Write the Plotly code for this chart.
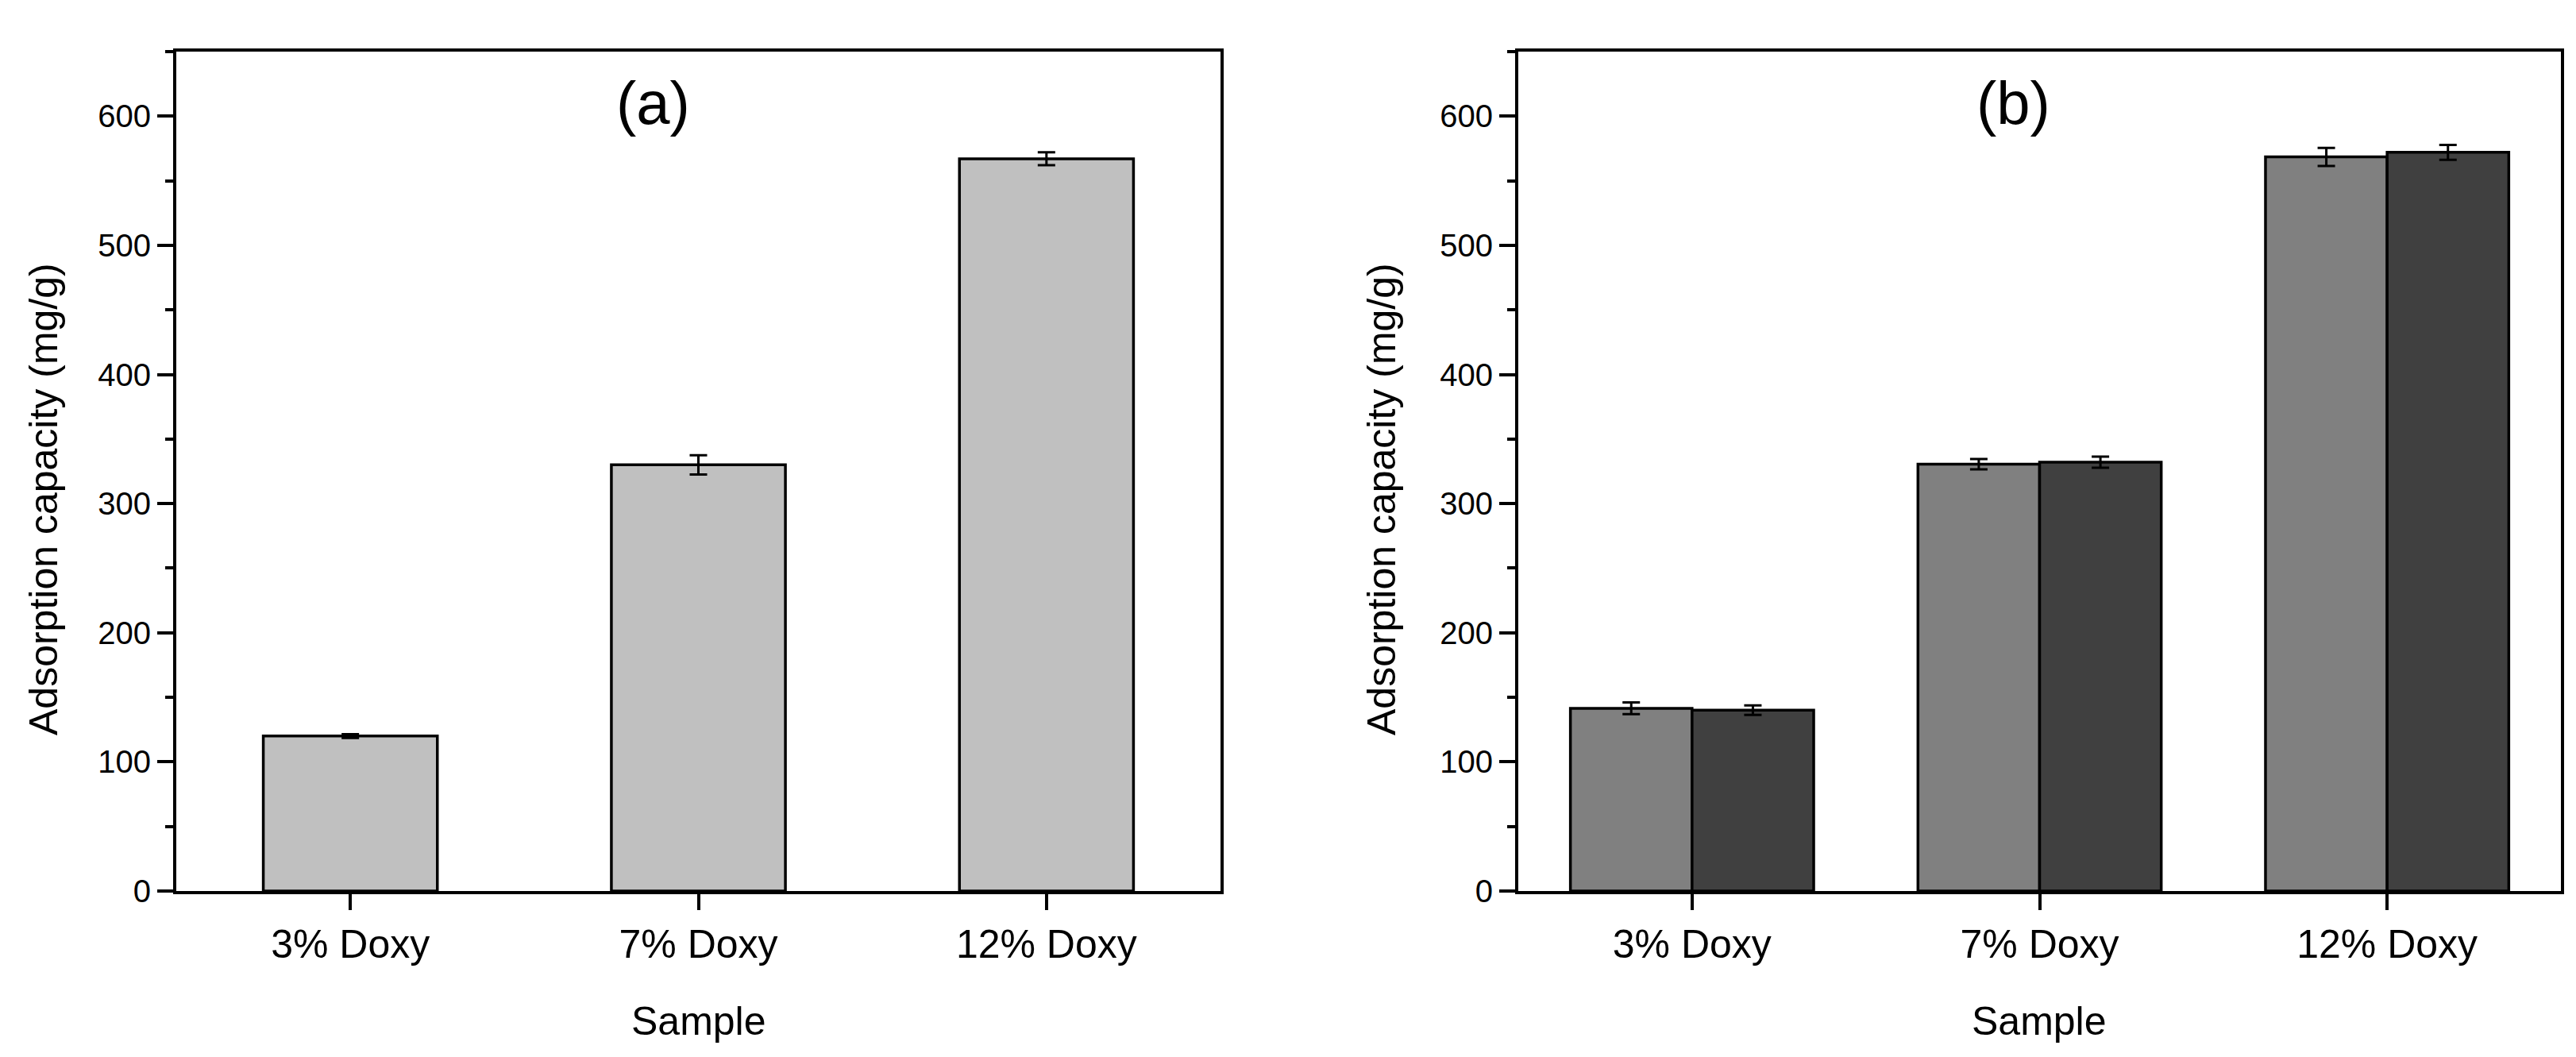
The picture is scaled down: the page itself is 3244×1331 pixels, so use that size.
import plotly.graph_objects as go

# ---- data ----
categories = ["3% Doxy", "7% Doxy", "12% Doxy"]
a_values = [120, 330, 567]
a_errors = [1.5, 7.5, 5]
b_values_1 = [141.5, 330.5, 568.5]
b_errors_1 = [4.5, 4, 7]
b_values_2 = [140, 332, 572]
b_errors_2 = [3.7, 4.3, 5.8]
y_tick_values = [0, 100, 200, 300, 400, 500, 600]
panel_labels = ["(a)", "(b)"]
x_title = "Sample"
y_title = "Adsorption capacity (mg/g)"

W, H = 3244, 1331
FONT = "Liberation Sans, Arial, sans-serif"

def err(vals):
    return dict(type="data", array=vals, visible=True, color="black", thickness=3, width=11)

fig = go.Figure()
fig.add_trace(go.Bar(x=categories, y=a_values, width=0.5, error_y=err(a_errors),
                     marker=dict(color="#C0C0C0", line=dict(color="black", width=3.5)),
                     xaxis="x", yaxis="y", showlegend=False))
fig.add_trace(go.Bar(x=categories, y=b_values_1, width=0.35, offset=-0.35, error_y=err(b_errors_1),
                     marker=dict(color="#808080", line=dict(color="black", width=3.5)),
                     xaxis="x2", yaxis="y2", showlegend=False))
fig.add_trace(go.Bar(x=categories, y=b_values_2, width=0.35, offset=0, error_y=err(b_errors_2),
                     marker=dict(color="#404040", line=dict(color="black", width=3.5)),
                     xaxis="x2", yaxis="y2", showlegend=False))

def xax(domain, anchor):
    return dict(domain=domain, anchor=anchor, type="category", categoryorder="array",
                categoryarray=categories, range=[-0.5, 2.5], showline=True, linecolor="black",
                linewidth=4, mirror=True, ticks="outside", ticklen=20, tickwidth=3.5,
                tickcolor="black", showgrid=False, zeroline=False, automargin=False,
                tickfont=dict(family=FONT, size=50, color="black"))

def yax(domain, anchor):
    return dict(domain=domain, anchor=anchor, range=[0, 650], tickmode="array",
                tickvals=y_tick_values, showline=True, linecolor="black", linewidth=4,
                mirror=True, ticks="outside", ticklen=20, tickwidth=4, tickcolor="black",
                minor=dict(dtick=50, tick0=0, ticks="outside", ticklen=10, tickwidth=4, tickcolor="black"),
                showgrid=False, zeroline=False, automargin=False,
                tickfont=dict(family=FONT, size=40, color="black"))

ydom = [1 - 1114 / H, 1 - 57 / H]
fig.update_layout(
    template="none",
    width=W, height=H,
    margin=dict(l=0, r=0, t=0, b=0),
    paper_bgcolor="white", plot_bgcolor="white",
    barmode="overlay",
    xaxis=xax([214 / W, 1529 / W], "y"),
    yaxis=yax(ydom, "x"),
    xaxis2=xax([1904 / W, 3217 / W], "y2"),
    yaxis2=yax(ydom, "x2"),
    font=dict(family=FONT, color="black"),
)

ann = []
for lab, xc in zip(panel_labels, [814, 2527]):
    ann.append(dict(text=lab, x=xc / W, y=1 - 121 / H, xref="paper", yref="paper",
                    showarrow=False, xanchor="center", yanchor="middle",
                    font=dict(family=FONT, size=76, color="black")))
for xc in [872, 2560]:
    ann.append(dict(text=x_title, x=xc / W, y=1 - 1278 / H, xref="paper", yref="paper",
                    showarrow=False, xanchor="center", yanchor="middle",
                    font=dict(family=FONT, size=50, color="black")))
for xc in [47, 1732]:
    ann.append(dict(text=y_title, x=xc / W, y=1 - 621 / H, xref="paper", yref="paper",
                    showarrow=False, xanchor="center", yanchor="middle", textangle=-90,
                    font=dict(family=FONT, size=50, color="black")))
fig.update_layout(annotations=ann)

fig.write_html("out.html")
